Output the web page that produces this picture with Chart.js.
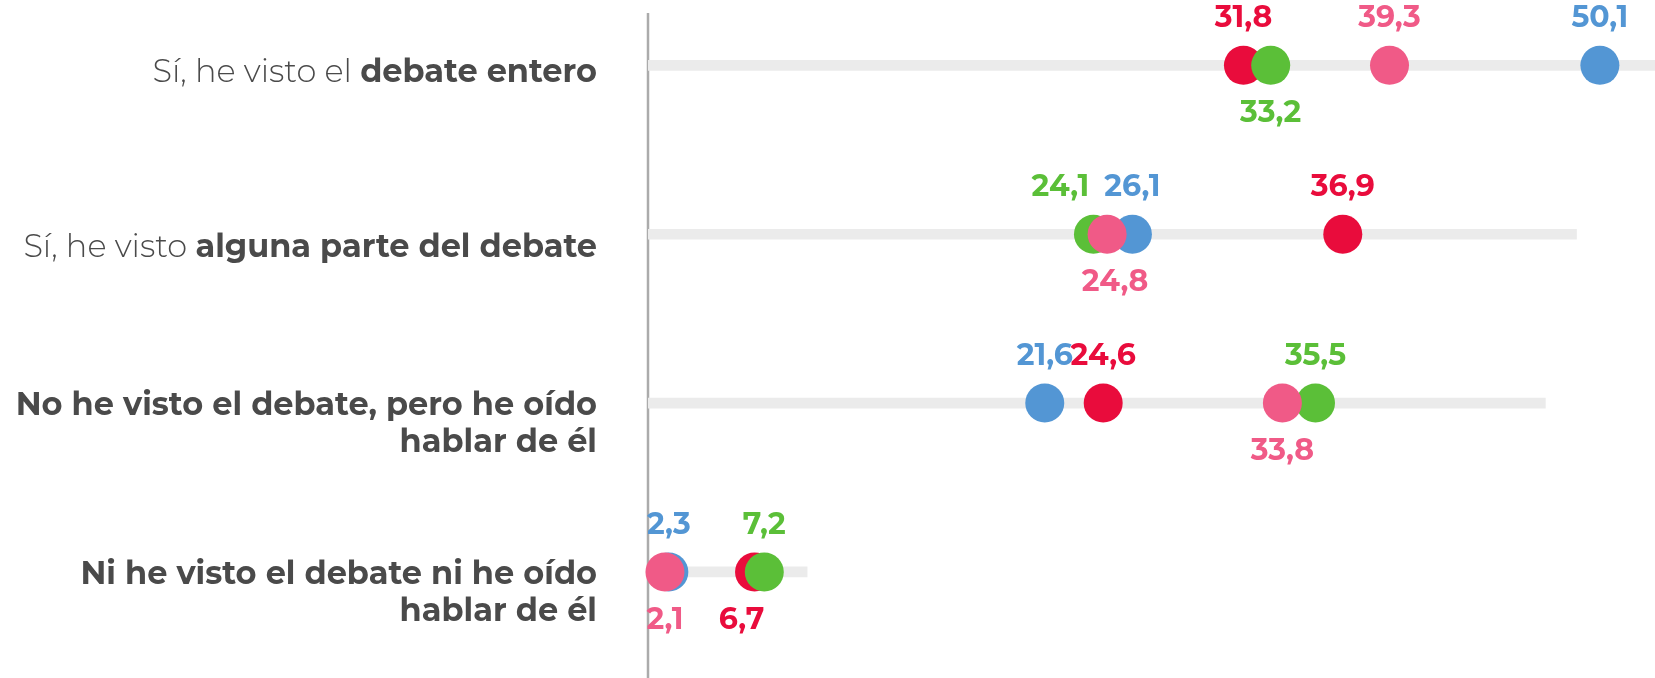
<!DOCTYPE html>
<html>
<head>
<meta charset="utf-8">
<script src="https://cdn.jsdelivr.net/npm/chart.js@4/dist/chart.umd.min.js"></script>
<style>
  html, body { margin: 0; padding: 0; background: #fff; }
  #wrap { width: 1655px; height: 678px; position: relative; }
</style>
</head>
<body>
<div id="wrap"><canvas id="c"></canvas></div>
<script>
// rows, top to bottom; **...** marks the bold part, \n breaks the line
var categories = [
  'Sí, he visto el **debate entero**',
  'Sí, he visto **alguna parte del debate**',
  '**No he visto el debate, pero he oído**\n**hablar de él**',
  '**Ni he visto el debate ni he oído**\n**hablar de él**'
];

var blueValues  = [50.1, 26.1, 21.6, 2.3];
var redValues   = [31.8, 36.9, 24.6, 6.7];
var greenValues = [33.2, 24.1, 35.5, 7.2];
var pinkValues  = [39.3, 24.8, 33.8, 2.1];

// grey track lengths behind each row
var trackEnds = [60, 48.9, 47.3, 9.4];

// which labels sit below their dot (1 = below)
var blueBelow  = [0, 0, 0, 0];
var redBelow   = [0, 0, 0, 1];
var greenBelow = [1, 0, 0, 0];
var pinkBelow  = [0, 1, 1, 1];

var colors = {
  blue: '#5396d4',
  red: '#e90c3c',
  green: '#5bbf38',
  pink: '#f05a87',
  track: '#ebebeb',
  text: '#4a4a4a',
  axis: '#ababab'
};

var FONT = 'Montserrat, Inter, "Open Sans", sans-serif';
var X_MIN = 1.23, X_MAX = 52.93;
// single-line row labels sit a little lower than their row in the original
var labelShift = [6, 12, 1, 1];

function points(vals) {
  return vals.map(function (v, i) { return { x: v, y: i }; });
}

var dotSets = [
  { label: 'pink', data: points(pinkValues), color: colors.pink, below: pinkBelow, dx: [0, 8, 0, 0] },
  { label: 'green', data: points(greenValues), color: colors.green, below: greenBelow, dx: [0, -33, 0, 0] },
  { label: 'red', data: points(redValues), color: colors.red, below: redBelow, dx: [0, 0, 0, -13] },
  { label: 'blue', data: points(blueValues), color: colors.blue, below: blueBelow, dx: [0, 0, 0, 0] }
];

var datasets = dotSets.map(function (s) {
  return {
    type: 'scatter',
    label: s.label,
    data: s.data,
    backgroundColor: s.color,
    borderWidth: 0,
    pointRadius: 19.5,
    pointHoverRadius: 19.5,
    below: s.below,
    dx: s.dx,
    clip: false,
    order: 1
  };
});

datasets.push({
  type: 'bar',
  label: 'track',
  data: trackEnds.map(function (v, i) { return { x: [X_MIN, v], y: i }; }),
  backgroundColor: colors.track,
  barThickness: 10,
  borderSkipped: false,
  order: 2
});

// category labels with mixed weight, drawn in the left margin
var rowLabels = {
  id: 'rowLabels',
  afterDraw(chart) {
    var ctx = chart.ctx, ys = chart.scales.y;
    var right = 597, size = 32, lineH = 37;
    ctx.save();
    ctx.textBaseline = 'alphabetic';
    ctx.fillStyle = colors.text;
    categories.forEach(function (cat, i) {
      var y0 = ys.getPixelForValue(i) + 11 + labelShift[i];
      cat.split('\n').forEach(function (line, li) {
        var parts = [];
        line.split('**').forEach(function (seg, k) {
          if (seg) parts.push({ t: seg, b: k % 2 === 1 });
        });
        var w = 0;
        parts.forEach(function (p) {
          ctx.font = (p.b ? '700 ' : '300 ') + size + 'px ' + FONT;
          p.w = ctx.measureText(p.t).width;
          w += p.w;
        });
        var x = right - w;
        parts.forEach(function (p) {
          ctx.font = (p.b ? '700 ' : '300 ') + size + 'px ' + FONT;
          ctx.textAlign = 'left';
          ctx.fillText(p.t, x, y0 + li * lineH);
          x += p.w;
        });
      });
    });
    ctx.restore();
  }
};

// vertical line at the left of the plot
var baseLine = {
  id: 'baseLine',
  beforeDatasetsDraw(chart) {
    var a = chart.chartArea, ctx = chart.ctx;
    ctx.save();
    ctx.strokeStyle = colors.axis;
    ctx.lineWidth = 2.5;
    ctx.beginPath();
    ctx.moveTo(a.left, a.top);
    ctx.lineTo(a.left, a.bottom);
    ctx.stroke();
    ctx.restore();
  }
};

// value labels above / below each dot
var valueLabels = {
  id: 'valueLabels',
  afterDatasetsDraw(chart) {
    var ctx = chart.ctx;
    ctx.save();
    ctx.font = '700 30px ' + FONT;
    ctx.textAlign = 'center';
    ctx.textBaseline = 'alphabetic';
    chart.data.datasets.forEach(function (ds, di) {
      if (ds.type !== 'scatter') return;
      var meta = chart.getDatasetMeta(di);
      ctx.fillStyle = ds.backgroundColor;
      meta.data.forEach(function (pt, i) {
        var txt = ds.data[i].x.toFixed(1).replace('.', ',');
        var off = ds.below[i] ? 57 : -38;
        ctx.fillText(txt, pt.x + ds.dx[i], pt.y + off);
      });
    });
    ctx.restore();
  }
};

new Chart(document.getElementById('c'), {
  data: { datasets: datasets },
  options: {
    indexAxis: 'y',
    responsive: true,
    maintainAspectRatio: false,
    animation: false,
    layout: { autoPadding: false, padding: { left: 648, top: 13, right: 0, bottom: 0 } },
    plugins: { legend: { display: false }, tooltip: { enabled: false } },
    scales: {
      x: { type: 'linear', min: X_MIN, max: X_MAX, offset: false, display: false },
      y: { type: 'linear', min: -0.31, max: 3.628, reverse: true, offset: false, display: false }
    }
  },
  plugins: [baseLine, valueLabels, rowLabels]
});
</script>
</body>
</html>
